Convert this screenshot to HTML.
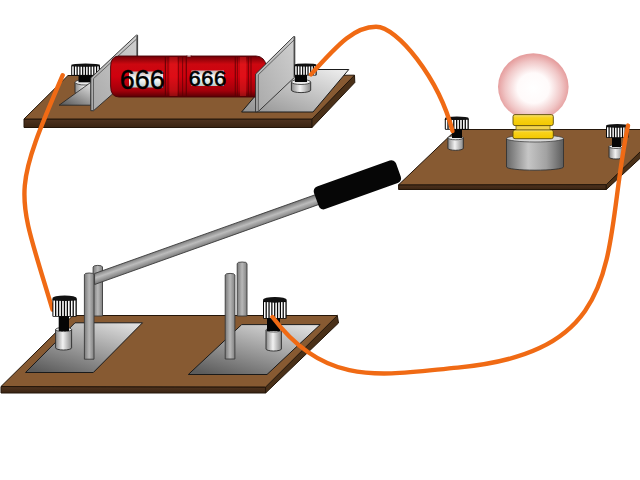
<!DOCTYPE html><html><head><meta charset="utf-8"><style>
html,body{margin:0;padding:0;background:#fff;width:640px;height:480px;overflow:hidden}
svg{display:block}
</style></head><body>
<svg width="640" height="480" viewBox="0 0 640 480">
<defs>
<linearGradient id="gCyl" x1="0" y1="0" x2="1" y2="0">
<stop offset="0" stop-color="#8a8a8a"/><stop offset="0.45" stop-color="#f2f2f2"/><stop offset="1" stop-color="#8a8a8a"/>
</linearGradient>
<linearGradient id="gRod" x1="0" y1="0" x2="1" y2="0">
<stop offset="0" stop-color="#7a7a7a"/><stop offset="0.5" stop-color="#b8b8b8"/><stop offset="1" stop-color="#808080"/>
</linearGradient>
<linearGradient id="gLever" x1="0" y1="0" x2="0" y2="1">
<stop offset="0" stop-color="#8a8a8a"/><stop offset="0.45" stop-color="#bdbdbd"/><stop offset="1" stop-color="#7a7a7a"/>
</linearGradient>
<linearGradient id="gPlate" x1="0.15" y1="1" x2="0.85" y2="0">
<stop offset="0" stop-color="#5c5c5c"/><stop offset="1" stop-color="#dedede"/>
</linearGradient>
<linearGradient id="gPlate2" x1="0" y1="1" x2="1" y2="0">
<stop offset="0" stop-color="#909090"/><stop offset="1" stop-color="#f0f0f0"/>
</linearGradient>
<linearGradient id="gVPlate" x1="0" y1="1" x2="1" y2="0">
<stop offset="0" stop-color="#a8a8a8"/><stop offset="1" stop-color="#d0d0d0"/>
</linearGradient>
<linearGradient id="gFront" x1="0" y1="0" x2="0" y2="1">
<stop offset="0" stop-color="#503420"/><stop offset="1" stop-color="#3a2412"/>
</linearGradient>
<linearGradient id="gLampBase" x1="0" y1="0" x2="1" y2="0">
<stop offset="0" stop-color="#686868"/><stop offset="0.38" stop-color="#c6c6c6"/><stop offset="0.7" stop-color="#a2a2a2"/><stop offset="1" stop-color="#5c5c5c"/>
</linearGradient>
<radialGradient id="gBulb" cx="0.5" cy="0.52" r="0.5">
<stop offset="0" stop-color="#ffffff"/><stop offset="0.45" stop-color="#fffafa"/><stop offset="0.8" stop-color="#f0c6c6"/><stop offset="1" stop-color="#e6a0a0"/>
</radialGradient>
<linearGradient id="gRes" x1="0" y1="0" x2="0" y2="1">
<stop offset="0" stop-color="#700006"/><stop offset="0.2" stop-color="#cc0810"/><stop offset="0.5" stop-color="#d0000e"/><stop offset="0.85" stop-color="#a2000a"/><stop offset="1" stop-color="#580004"/>
</linearGradient>
<linearGradient id="gSock" x1="0" y1="0" x2="0" y2="1">
<stop offset="0" stop-color="#f6e27a"/><stop offset="0.3" stop-color="#f8d21a"/><stop offset="1" stop-color="#f2c800"/>
</linearGradient>
<linearGradient id="gLabel" x1="0" y1="0" x2="0" y2="1">
<stop offset="0" stop-color="#c8b8b8"/><stop offset="0.45" stop-color="#ffffff"/><stop offset="1" stop-color="#b8c8c8"/>
</linearGradient>
<linearGradient id="gDigit" x1="0" y1="0" x2="0" y2="1">
<stop offset="0" stop-color="#9a9a9a"/><stop offset="0.5" stop-color="#ffffff"/><stop offset="1" stop-color="#9a9a9a"/>
</linearGradient>
</defs>
<rect width="640" height="480" fill="#fff"/>

<polygon points="24,119 312,119 312,127.5 24,127.5" fill="url(#gFront)" stroke="#24160a" stroke-width="1"/>
<polygon points="312,119 354.5,75.2 354.8,82.5 312,127.5" fill="#4a3018" stroke="#24160a" stroke-width="1"/>
<polygon points="24,119 68,75.5 354.5,75.2 312,119" fill="#875a32" stroke="#24160a" stroke-width="1"/>
<polygon points="241.6,112 313,112 348.8,69.5 277.6,69.5" fill="url(#gPlate2)" stroke="#1a1a1a" stroke-width="1"/>
<path d="M75,82.3 L75,92.27 A10.5,2.73 0 0 0 96,92.27 L96,82.3 Z" fill="url(#gCyl)" stroke="#2a2a2a" stroke-width="0.9"/>
<ellipse cx="85.5" cy="82.3" rx="10.5" ry="2.73" fill="#ececec" stroke="#333" stroke-width="0.8"/>
<rect x="78.5" y="74.7" width="13.5" height="7.599999999999994" fill="#050505"/>
<rect x="71.2" y="65.086" width="28.799999999999997" height="10.614000000000003" rx="1" fill="#080808"/>
<rect x="72.20" y="66.35" width="1.53" height="8.55" fill="#fff"/>
<rect x="74.98" y="66.35" width="1.53" height="8.55" fill="#fff"/>
<rect x="77.76" y="66.35" width="1.53" height="8.55" fill="#fff"/>
<rect x="80.54" y="66.35" width="1.53" height="8.55" fill="#fff"/>
<rect x="83.32" y="66.35" width="1.53" height="8.55" fill="#fff"/>
<rect x="86.10" y="66.35" width="1.53" height="8.55" fill="#fff"/>
<rect x="88.88" y="66.35" width="1.53" height="8.55" fill="#fff"/>
<rect x="91.66" y="66.35" width="1.53" height="8.55" fill="#fff"/>
<rect x="94.44" y="66.35" width="1.53" height="8.55" fill="#fff"/>
<rect x="97.22" y="66.35" width="1.53" height="8.55" fill="#fff"/>
<ellipse cx="85.6" cy="65.086" rx="14.399999999999999" ry="1.5860000000000005" fill="#111"/>
<polygon points="59.1,105.2 91,105.2 91,82.2" fill="url(#gPlate)" stroke="#222" stroke-width="0.8"/>
<polygon points="90.8,110.7 90.8,77.8 136.3,35.2 137.6,35.2 137.6,72 93.5,110.7" fill="url(#gVPlate)" stroke="#2a2a2a" stroke-width="0.9"/>
<polyline points="93.5,110.7 93.5,78.6 136.6,39" fill="none" stroke="#4a4a4a" stroke-width="0.8"/>
<line x1="137" y1="36" x2="137" y2="72" stroke="#444" stroke-width="1.2"/>
<g>
<path d="M119,56 L256,56 A10,10 0 0 1 266,66 L266,88 Q266,97 258,97 L119,97 Q110.6,97 110.6,86 L110.6,67 Q110.6,56 119,56 Z" fill="url(#gRes)" stroke="#4a0004" stroke-width="0.9"/>
<line x1="165.4" y1="57" x2="165.4" y2="96" stroke="#5a0004" stroke-width="1.2" opacity="0.8"/>
<line x1="168" y1="57" x2="168" y2="96" stroke="#5a0004" stroke-width="1.0" opacity="0.6"/>
<line x1="178.4" y1="57" x2="178.4" y2="96" stroke="#5a0004" stroke-width="1.0" opacity="0.6"/>
<line x1="182.6" y1="57" x2="182.6" y2="96" stroke="#5a0004" stroke-width="1.0" opacity="0.7"/>
<line x1="186.3" y1="57" x2="186.3" y2="96" stroke="#5a0004" stroke-width="1.2" opacity="0.8"/>
<line x1="235.3" y1="57" x2="235.3" y2="96" stroke="#5a0004" stroke-width="1.2" opacity="0.7"/>
<line x1="237.4" y1="57" x2="237.4" y2="96" stroke="#5a0004" stroke-width="1.0" opacity="0.6"/>
<line x1="248.3" y1="57" x2="248.3" y2="96" stroke="#5a0004" stroke-width="1.2" opacity="0.7"/>
<line x1="251" y1="57" x2="251" y2="96" stroke="#5a0004" stroke-width="1.2" opacity="0.6"/>
<rect x="240" y="57" width="6" height="39" fill="#ff2a2a" opacity="0.35"/>
<rect x="169.5" y="57" width="8" height="39" fill="#ff2a2a" opacity="0.3"/>
<path d="M186.5,55.5 Q189,58.5 191.5,55.5" fill="#fff" stroke="#5a0004" stroke-width="0.6"/>
<rect x="129" y="71.5" width="34" height="16" fill="url(#gLabel)"/>
<rect x="191.5" y="70.5" width="32.5" height="15.5" fill="url(#gLabel)"/>
<text x="142.2" y="89.2" text-anchor="middle" font-family="Liberation Sans, sans-serif" font-size="27" fill="#000" stroke="#000" stroke-width="0.4" letter-spacing="0">666</text>
<text x="207.6" y="86.2" text-anchor="middle" font-family="Liberation Sans, sans-serif" font-size="22" fill="#000" stroke="#000" stroke-width="0.6" letter-spacing="0.5">666</text>
</g>
<polygon points="255.6,112 255.6,74 293.6,36.6 294.8,36.6 294.8,77 258.3,111.5" fill="url(#gVPlate)" stroke="#2a2a2a" stroke-width="0.9"/>
<polyline points="258.3,112 258.3,74.8 294,40" fill="none" stroke="#4a4a4a" stroke-width="0.8"/>
<line x1="294.2" y1="37" x2="294.2" y2="77" stroke="#444" stroke-width="1.2"/>
<path d="M291.4,82 L291.4,90.091 A9.650000000000006,2.5090000000000017 0 0 0 310.7,90.091 L310.7,82 Z" fill="url(#gCyl)" stroke="#2a2a2a" stroke-width="0.9"/>
<ellipse cx="301.04999999999995" cy="82" rx="9.650000000000006" ry="2.5090000000000017" fill="#ececec" stroke="#333" stroke-width="0.8"/>
<rect x="294.9" y="74.6" width="12.100000000000023" height="7.400000000000006" fill="#050505"/>
<rect x="294.2" y="64.986" width="22.5" height="10.613999999999997" rx="1" fill="#080808"/>
<rect x="295.20" y="66.25" width="1.48" height="8.55" fill="#fff"/>
<rect x="297.89" y="66.25" width="1.48" height="8.55" fill="#fff"/>
<rect x="300.57" y="66.25" width="1.48" height="8.55" fill="#fff"/>
<rect x="303.26" y="66.25" width="1.48" height="8.55" fill="#fff"/>
<rect x="305.95" y="66.25" width="1.48" height="8.55" fill="#fff"/>
<rect x="308.64" y="66.25" width="1.48" height="8.55" fill="#fff"/>
<rect x="311.32" y="66.25" width="1.48" height="8.55" fill="#fff"/>
<rect x="314.01" y="66.25" width="1.48" height="8.55" fill="#fff"/>
<ellipse cx="305.45" cy="64.986" rx="11.25" ry="1.5859999999999994" fill="#111"/>
<polygon points="398.6,184.8 606.3,184.6 606.3,189.5 398.6,189.5" fill="url(#gFront)" stroke="#24160a" stroke-width="1"/>
<polygon points="606.3,184.6 641,151 641,157.5 606.3,189.5" fill="#4a3018" stroke="#24160a" stroke-width="1"/>
<polygon points="398.6,184.8 456.5,129.5 641,129.5 641,151 606.3,184.6" fill="#875a32" stroke="#24160a" stroke-width="1"/>
<path d="M447.9,137.8 L447.9,148.298 A7.700000000000017,2.0020000000000047 0 0 0 463.3,148.298 L463.3,137.8 Z" fill="url(#gCyl)" stroke="#2a2a2a" stroke-width="0.9"/>
<ellipse cx="455.6" cy="137.8" rx="7.700000000000017" ry="2.0020000000000047" fill="#ececec" stroke="#333" stroke-width="0.8"/>
<rect x="452" y="128.7" width="10" height="9.300000000000011" fill="#050505"/>
<rect x="444.8" y="118.303" width="24.0" height="11.396999999999995" rx="1" fill="#080808"/>
<rect x="445.80" y="119.67" width="1.58" height="9.23" fill="#fff"/>
<rect x="448.68" y="119.67" width="1.58" height="9.23" fill="#fff"/>
<rect x="451.55" y="119.67" width="1.58" height="9.23" fill="#fff"/>
<rect x="454.43" y="119.67" width="1.58" height="9.23" fill="#fff"/>
<rect x="457.30" y="119.67" width="1.58" height="9.23" fill="#fff"/>
<rect x="460.18" y="119.67" width="1.58" height="9.23" fill="#fff"/>
<rect x="463.05" y="119.67" width="1.58" height="9.23" fill="#fff"/>
<rect x="465.93" y="119.67" width="1.58" height="9.23" fill="#fff"/>
<ellipse cx="456.8" cy="118.303" rx="12.0" ry="1.7029999999999994" fill="#111"/>
<path d="M609,146.6 L609,157.18 A7.0,1.82 0 0 0 623,157.18 L623,146.6 Z" fill="url(#gCyl)" stroke="#2a2a2a" stroke-width="0.9"/>
<ellipse cx="616.0" cy="146.6" rx="7.0" ry="1.82" fill="#ececec" stroke="#333" stroke-width="0.8"/>
<rect x="612" y="137" width="9" height="10" fill="#050505"/>
<rect x="606" y="125.82" width="22.5" height="12.18" rx="1" fill="#080808"/>
<rect x="607.00" y="127.28" width="1.48" height="9.92" fill="#fff"/>
<rect x="609.69" y="127.28" width="1.48" height="9.92" fill="#fff"/>
<rect x="612.38" y="127.28" width="1.48" height="9.92" fill="#fff"/>
<rect x="615.06" y="127.28" width="1.48" height="9.92" fill="#fff"/>
<rect x="617.75" y="127.28" width="1.48" height="9.92" fill="#fff"/>
<rect x="620.44" y="127.28" width="1.48" height="9.92" fill="#fff"/>
<rect x="623.12" y="127.28" width="1.48" height="9.92" fill="#fff"/>
<rect x="625.81" y="127.28" width="1.48" height="9.92" fill="#fff"/>
<ellipse cx="617.25" cy="125.82" rx="11.25" ry="1.82" fill="#111"/>
<path d="M506.5,138.5 L506.5,167 A28.5,3.2 0 0 0 563.5,167 L563.5,138.5 Z" fill="url(#gLampBase)" stroke="#333" stroke-width="0.9"/>
<ellipse cx="535" cy="138.5" rx="28.5" ry="3.5" fill="#d8d8d8" stroke="#444" stroke-width="0.8"/>
<ellipse cx="533.3" cy="86.8" rx="35.3" ry="33.6" fill="url(#gBulb)"/>
<rect x="516" y="124.5" width="34" height="6" fill="#f2d450" stroke="#6a5a10" stroke-width="0.7"/>
<rect x="513" y="129.9" width="40.3" height="8.8" rx="2" fill="url(#gSock)" stroke="#5a4a08" stroke-width="0.9"/>
<rect x="513" y="114.6" width="40.3" height="11" rx="2" fill="url(#gSock)" stroke="#5a4a08" stroke-width="0.9"/>
<polygon points="1,386.5 265.6,387 265.6,393 1,393" fill="url(#gFront)" stroke="#24160a" stroke-width="1"/>
<polygon points="265.6,387 337.3,315.5 338.5,323 265.6,393" fill="#4a3018" stroke="#24160a" stroke-width="1"/>
<polygon points="1,386.5 73,315.5 337.3,315.5 265.6,387" fill="#875a32" stroke="#24160a" stroke-width="1"/>
<polygon points="25.5,372.5 93.3,372.5 142.5,322.8 75,322.8" fill="url(#gPlate)" stroke="#1a1a1a" stroke-width="1"/>
<polygon points="188.3,374.5 267,374.5 320.2,324.6 241.7,324.6" fill="url(#gPlate)" stroke="#1a1a1a" stroke-width="1"/>
<path d="M93.1,316 L93.1,267.0 A4.700000000000003,1.6 0 0 1 102.5,267.0 L102.5,316 Z" fill="url(#gRod)" stroke="#3a3a3a" stroke-width="0.9"/>
<path d="M237.2,316 L237.2,263.6 A4.900000000000006,1.6 0 0 1 247,263.6 L247,316 Z" fill="url(#gRod)" stroke="#3a3a3a" stroke-width="0.9"/>
<linearGradient id="gLev2" gradientUnits="userSpaceOnUse" x1="200" y1="235.8" x2="203.6" y2="246"><stop offset="0" stop-color="#7c7c7c"/><stop offset="0.45" stop-color="#bcbcbc"/><stop offset="1" stop-color="#7a7a7a"/></linearGradient>
<polygon points="94.6,273.5 340,185.9 340,196.9 94.6,284.5" fill="url(#gLev2)" stroke="#3a3a3a" stroke-width="0.9"/>
<path d="M84.4,359.2 L84.4,274.6 A4.799999999999997,1.6 0 0 1 94,274.6 L94,359.2 Z" fill="url(#gRod)" stroke="#3a3a3a" stroke-width="0.9"/>
<path d="M225.2,359 L225.2,275.0 A4.8500000000000085,1.6 0 0 1 234.9,275.0 L234.9,359 Z" fill="url(#gRod)" stroke="#3a3a3a" stroke-width="0.9"/>
<g transform="translate(357.4,184.8) rotate(-19.67)"><rect x="-43.6" y="-12" width="87.2" height="24" rx="5" ry="5" fill="#060606"/></g>
<path d="M62.7,75.2 C10.24,197.63 16.45,188.78 52.5,309.6" fill="none" stroke="#f06a14" stroke-width="4.4" stroke-linecap="round"/>
<path d="M55.6,329.5 L55.6,347.92 A7.9999999999999964,2.079999999999999 0 0 0 71.6,347.92 L71.6,329.5 Z" fill="url(#gCyl)" stroke="#2a2a2a" stroke-width="0.9"/>
<ellipse cx="63.599999999999994" cy="329.5" rx="7.9999999999999964" ry="2.079999999999999" fill="#ececec" stroke="#333" stroke-width="0.8"/>
<rect x="58.7" y="315.8" width="10.299999999999997" height="15.199999999999989" fill="#050505"/>
<rect x="52.4" y="298.269" width="24.4" height="18.53100000000001" rx="1" fill="#080808"/>
<rect x="53.40" y="300.48" width="1.61" height="15.52" fill="#fff"/>
<rect x="56.32" y="300.48" width="1.61" height="15.52" fill="#fff"/>
<rect x="59.25" y="300.48" width="1.61" height="15.52" fill="#fff"/>
<rect x="62.17" y="300.48" width="1.61" height="15.52" fill="#fff"/>
<rect x="65.10" y="300.48" width="1.61" height="15.52" fill="#fff"/>
<rect x="68.03" y="300.48" width="1.61" height="15.52" fill="#fff"/>
<rect x="70.95" y="300.48" width="1.61" height="15.52" fill="#fff"/>
<rect x="73.88" y="300.48" width="1.61" height="15.52" fill="#fff"/>
<ellipse cx="64.6" cy="298.269" rx="12.2" ry="2.7690000000000015" fill="#111"/>
<path d="M266,330 L266,348.998 A7.699999999999989,2.001999999999997 0 0 0 281.4,348.998 L281.4,330 Z" fill="url(#gCyl)" stroke="#2a2a2a" stroke-width="0.9"/>
<ellipse cx="273.7" cy="330" rx="7.699999999999989" ry="2.001999999999997" fill="#ececec" stroke="#333" stroke-width="0.8"/>
<rect x="267" y="317.8" width="13" height="13.199999999999989" fill="#050505"/>
<rect x="263" y="299.834" width="23.69999999999999" height="18.966000000000008" rx="1" fill="#080808"/>
<rect x="264.00" y="302.10" width="1.56" height="15.90" fill="#fff"/>
<rect x="266.84" y="302.10" width="1.56" height="15.90" fill="#fff"/>
<rect x="269.68" y="302.10" width="1.56" height="15.90" fill="#fff"/>
<rect x="272.51" y="302.10" width="1.56" height="15.90" fill="#fff"/>
<rect x="275.35" y="302.10" width="1.56" height="15.90" fill="#fff"/>
<rect x="278.19" y="302.10" width="1.56" height="15.90" fill="#fff"/>
<rect x="281.02" y="302.10" width="1.56" height="15.90" fill="#fff"/>
<rect x="283.86" y="302.10" width="1.56" height="15.90" fill="#fff"/>
<ellipse cx="274.85" cy="299.834" rx="11.849999999999994" ry="2.8340000000000014" fill="#111"/>
<path d="M311,74.4 C340,42 355,27 376,26.8 C397,26.6 438.6,78 452.5,131" fill="none" stroke="#f06a14" stroke-width="4.4" stroke-linecap="round"/>
<path d="M272.5,317 C326.1,388.8 385,374.4 457.7,367.6 C630.5,351.4 601.7,250.4 628,125.6" fill="none" stroke="#f06a14" stroke-width="4.4" stroke-linecap="round"/>
</svg></body></html>
